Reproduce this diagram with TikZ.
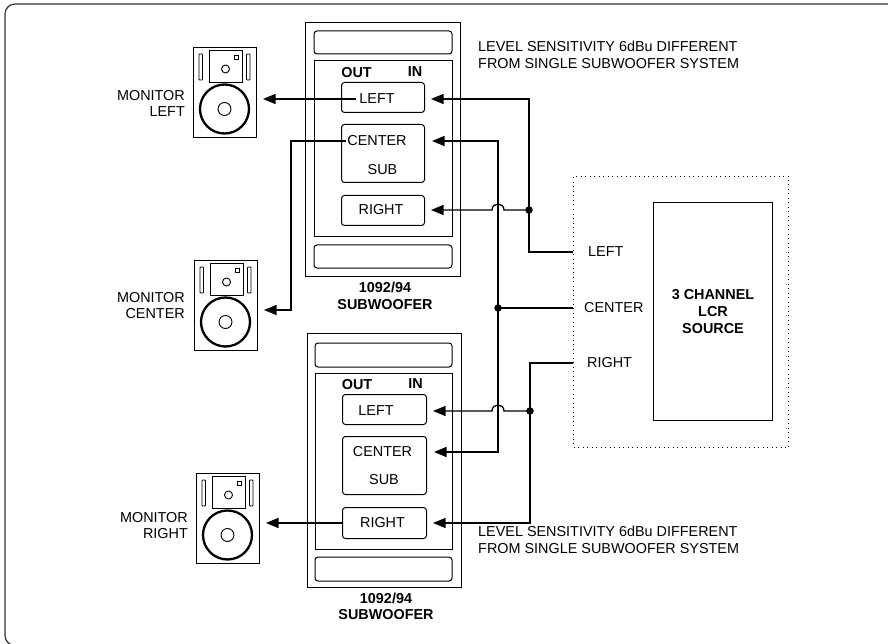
\documentclass[tikz,border=0pt]{standalone}
\usepackage{fontspec}
\setmainfont{Liberation Sans}
\usetikzlibrary{arrows.meta,calc}
\begin{document}
\begin{tikzpicture}[x=1pt,y=-1pt,
  font=\fontsize{14.4}{16.5}\selectfont,
  ln/.style={line width=1.3pt},
  arr/.style={ln,-{Triangle[length=12.5pt,width=10pt]}},
  arrb/.style={ln,{Triangle[length=12.5pt,width=10pt]}-{Triangle[length=12.5pt,width=10pt]}},
  btn/.style={draw,rounded corners=3pt,line width=1pt,minimum width=83pt,inner sep=0pt,anchor=north west},
  slot/.style={draw,rounded corners=3pt,line width=1pt},
  lab/.style={inner sep=1pt},
  bl/.style={inner sep=1pt,font=\fontsize{14.4}{16.5}\selectfont\bfseries},
  dot/.style={circle,fill,inner sep=0pt,minimum size=7.5pt},
  spk/.pic={
    \node[draw,line width=1pt,minimum width=63pt,minimum height=90pt,inner sep=0pt,anchor=north west] (-box) at (0,0) {};
    \draw[line width=0.9pt,rounded corners=0.8pt] (6,7) rectangle (9.5,33) (53.5,7) rectangle (57,33);
    \draw[line width=0.9pt] (16,3.5) rectangle (49,35.5);
    \draw[line width=0.9pt] (32.5,22) circle[radius=4];
    \draw[line width=0.9pt] (41,8.5) rectangle (45,12.5);
    \draw[line width=2.3pt] (31.5,62) circle[radius=24.5];
    \draw[line width=0.9pt] (31.5,62) circle[radius=6.5];
  }]
\useasboundingbox (0,0) rectangle (888,644);
\draw[line width=1.2pt,rounded corners=10pt,black!80] (5,4) rectangle (910,645.5);

% ---------- speakers ----------
\pic (mL) at (193,47) {spk};
\pic (mC) at (194,260) {spk};
\pic (mR) at (196,473) {spk};
\node[lab,align=right,anchor=east] (tmL) at (186,103.5) {MONITOR\\LEFT};
\node[lab,align=right,anchor=east] (tmC) at (186,305.5) {MONITOR\\CENTER};
\node[lab,align=right,anchor=east] (tmR) at (189,525.5) {MONITOR\\RIGHT};

% ---------- upper subwoofer ----------
\node[draw,line width=1.2pt,minimum width=155pt,minimum height=254pt,inner sep=0pt,anchor=north west] (usub) at (305,22) {};
\draw[slot] (314,31) rectangle (452,54);
\draw[line width=1pt] (314,61) rectangle (452,237);
\draw[slot] (314,245) rectangle (452,268);
\node[bl] (uOut) at (356.5,73) {OUT};
\node[bl] (uIn) at (415,72) {IN};
\node[btn,minimum height=30pt] (uL) at (341,82) {};
\node[btn,minimum height=58pt] (uC) at (341,124) {};
\node[btn,minimum height=30pt] (uR) at (341,195) {};
\node[lab,inner xsep=3pt] (uLt) at (377,99) {LEFT};
\node[lab] (uCt) at (377,141) {CENTER};
\node[lab] (uSt) at (382.5,169.5) {SUB};
\node[lab] (uRt) at (381,210) {RIGHT};
\node[bl,align=center] (uName) at (385,296) {1092/94\\SUBWOOFER};

% ---------- lower subwoofer ----------
\node[draw,line width=1.2pt,minimum width=154pt,minimum height=254pt,inner sep=0pt,anchor=north west] (lsub) at (307,333) {};
\draw[slot] (315,343) rectangle (452,367);
\draw[line width=1pt] (315,373) rectangle (452,549);
\draw[slot] (315,557) rectangle (452,581);
\node[bl] (lOut) at (357,385) {OUT};
\node[bl] (lIn) at (415.5,384) {IN};
\node[btn,minimum height=30pt,minimum width=84pt] (lL) at (342,394) {};
\node[btn,minimum height=58pt,minimum width=84pt] (lC) at (342,436) {};
\node[btn,minimum height=31pt,minimum width=84pt] (lR) at (342,507) {};
\node[lab] (lLt) at (376,411) {LEFT};
\node[lab] (lCt) at (382.5,452) {CENTER};
\node[lab] (lSt) at (384,479.5) {SUB};
\node[lab] (lRt) at (382.5,523) {RIGHT};
\node[bl,align=center] (lName) at (386,606.5) {1092/94\\SUBWOOFER};

% ---------- notes ----------
\node[lab,align=left,anchor=west] (noteU) at (477,55) {LEVEL SENSITIVITY 6dBu DIFFERENT\\FROM SINGLE SUBWOOFER SYSTEM};
\node[lab,align=left,anchor=west] (noteL) at (477,540) {LEVEL SENSITIVITY 6dBu DIFFERENT\\FROM SINGLE SUBWOOFER SYSTEM};

% ---------- source ----------
\node[draw,line width=1pt,dash pattern=on 1pt off 3.5pt,minimum width=215pt,minimum height=271pt,inner sep=0pt,anchor=north west] (src) at (573,176) {};
\node[draw,line width=1pt,minimum width=119pt,minimum height=218pt,inner sep=0pt,anchor=north west,align=center,
      font=\fontsize{14.4}{17}\selectfont\bfseries] (lcr) at (653,202) {3 CHANNEL\\LCR\\SOURCE};
\node[lab,anchor=west] (lblL) at (587,252) {LEFT};
\node[lab,anchor=west] (lblC) at (583,308) {CENTER};
\node[lab,anchor=west] (lblR) at (586,363) {RIGHT};

% ---------- coordinates ----------
\coordinate (xL) at (529,0);
\coordinate (xC) at (498,0);
\coordinate (xR) at (530,0);
\coordinate (cTurn) at (291,310);
\coordinate (hopU) at (xC |- uRt);
\coordinate (hopL) at (xC |- lLt);

% ---------- outputs ----------
\draw[arr,shorten >=6pt] (uLt.west) -- (uLt.west -| mL-box.east);
\draw[arr,shorten >=6pt] (uCt.west) -| (cTurn) -- (cTurn -| mC-box.east);
\draw[arr,shorten >=6pt] (lR.west |- lRt) -- (lRt -| mR-box.east);

% ---------- inputs ----------
\draw[arr,shorten >=6pt] (src.west |- lblL) -| (xL |- uLt) -- (uL.east |- uLt);
\draw[arr,shorten >=6pt] (xL |- uRt) -- ([xshift=6pt]hopU)
   .. controls ([xshift=6pt,yshift=8pt]hopU) and ([xshift=-6pt,yshift=8pt]hopU) .. ([xshift=-6pt]hopU)
   -- (uR.east |- uRt);
\draw[arrb,shorten <=7pt,shorten >=7pt] (uC.east |- uCt) -| (xC |- lCt) -- (lC.east |- lCt);
\draw[ln] (src.west |- lblC) -- (xC |- lblC);
\draw[arr,shorten >=6pt] (src.west |- lblR) -| (xR |- lRt) -- (lR.east |- lRt);
\draw[arr,shorten >=6pt] (xR |- lLt) -- ([xshift=6pt]hopL)
   .. controls ([xshift=6pt,yshift=8pt]hopL) and ([xshift=-6pt,yshift=8pt]hopL) .. ([xshift=-6pt]hopL)
   -- (lL.east |- lLt);

\node[dot] (dU) at (xL |- uRt) {};
\node[dot] (dC) at (xC |- lblC) {};
\node[dot] (dL) at (xR |- lLt) {};
\end{tikzpicture}
\end{document}
